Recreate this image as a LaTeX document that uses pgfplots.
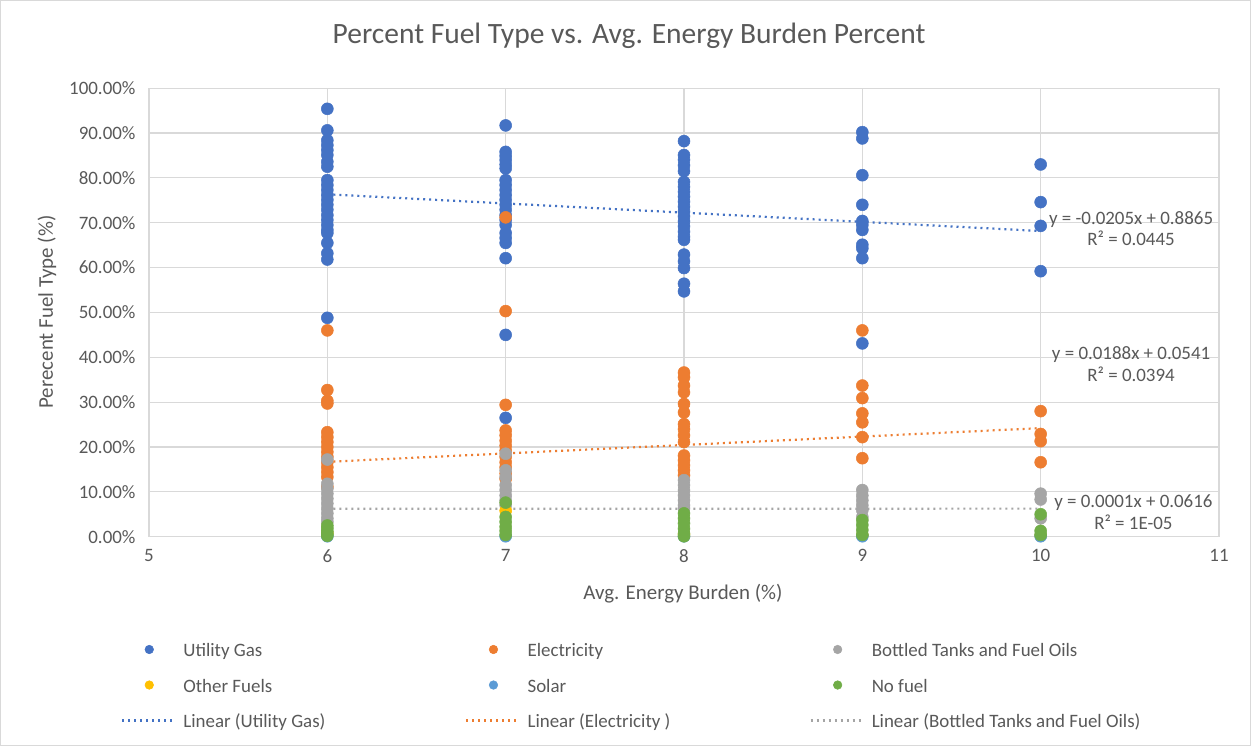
\documentclass[border=0pt]{standalone}
\usepackage{pgfplots}
\pgfplotsset{compat=1.18}
\usepackage{fontspec}
\setmainfont{Carlito}
\definecolor{cGas}{HTML}{4472C4}
\definecolor{cEl}{HTML}{ED7D31}
\definecolor{cBot}{HTML}{A5A5A5}
\definecolor{cOth}{HTML}{FFC000}
\definecolor{cSol}{HTML}{5B9BD5}
\definecolor{cNo}{HTML}{70AD47}
\definecolor{gridc}{HTML}{D9D9D9}
\definecolor{labc}{HTML}{595959}
\pgfplotsset{
  mk/.style={only marks, mark=*, mark size=6bp, mark options={solid, fill=#1, draw=#1, line width=0.5bp}, color=#1,
    legend image code/.code={\draw[##1, mark size=4.3bp] plot coordinates {(27bp,0bp)};}},
  tr/.style={no marks, color=#1, line width=2.2bp, dash pattern=on 2bp off 4bp,
    legend image code/.code={\draw[##1] (0bp,0bp) -- (50bp,0bp);}},
}
\newcommand{\lt}[1]{\makebox[282bp][l]{\strut #1}}
\newcommand{\ls}[1]{\strut #1}
\begin{document}
\begin{tikzpicture}
\path[use as bounding box] (0bp,0bp) rectangle (1251bp,746bp);
\fill[white] (0bp,0bp) rectangle (1251bp,746bp);
\draw[gridc, line width=1bp] (0.5bp,0.5bp) rectangle (1250.5bp,745.5bp);
\begin{axis}[
  at={(149bp,209.3bp)}, anchor=south west,
  scale only axis, width=1070bp, height=448.5bp,
  xmin=5, xmax=11, ymin=0, ymax=100,
  xtick={5,6,...,11}, ytick={0,10,...,100},
  grid=major, major grid style={draw=gridc, line width=1.2bp},
  axis line style={draw=gridc, line width=1.2bp},
  major tick length=0pt,
  /pgf/number format/assume math mode=true,
  tick label style={font=\fontsize{19}{23}\selectfont, text=labc},
  yticklabel={\pgfmathprintnumber[fixed,fixed zerofill,precision=2]{\tick}\%},
  xticklabel style={yshift=-9bp},
  yticklabel style={xshift=-10bp},
  xlabel={Avg. Energy Burden (\%)},
  ylabel={Perecent Fuel Type (\%)},
  label style={font=\fontsize{21}{25}\selectfont, text=labc},
  xlabel style={at={(axis description cs:0.499,-0.127)}, anchor=center},
  ylabel style={at={(axis description cs:-0.0953,0.501)}, anchor=center},
  title={Percent Fuel Type vs. Avg. Energy Burden Percent},
  title style={at={(axis description cs:0.4486,1.103)}, anchor=center, font=\fontsize{29.6}{34}\selectfont, text=labc},
  legend columns=3,
  legend cell align=left,
  legend style={at={(axis description cs:-0.0262,-0.2315)}, anchor=north west, draw=none, fill=none,
    inner sep=0bp, row sep=18bp, column sep=0bp,
    font=\fontsize{19}{23}\selectfont, text=labc, nodes={inner sep=0bp},
    /tikz/every odd column/.append style={column sep=10bp}},
]
\addplot[mk=cGas] coordinates {
(6,95.4) (6,90.6) (6,88.4) (6,87.3) (6,86.2) (6,85.1) (6,83.6) (6,82.5) (6,79.5) (6,78.4) (6,77.3) (6,76.2) (6,75.1) (6,74.0) (6,72.9) (6,71.7) (6,70.6) (6,69.5) (6,68.4) (6,67.7) (6,65.5) (6,63.2) (6,61.8) (6,48.8)
(7,91.7) (7,85.8) (7,84.9) (7,84.0) (7,83.0) (7,82.1) (7,79.5) (7,78.4) (7,77.3) (7,76.2) (7,75.1) (7,74.0) (7,72.9) (7,71.7) (7,70.6) (7,69.5) (7,67.7) (7,66.6) (7,65.5) (7,62.1) (7,45.0) (7,26.5)
(8,88.2) (8,85.1) (8,84.0) (8,82.8) (8,81.5) (8,79.1) (8,78.0) (8,76.9) (8,75.8) (8,74.7) (8,73.6) (8,72.5) (8,71.4) (8,70.3) (8,69.2) (8,68.0) (8,66.9) (8,66.2) (8,62.9) (8,61.4) (8,59.9) (8,56.4) (8,54.7)
(9,90.2) (9,88.8) (9,80.6) (9,74.0) (9,70.4) (9,69.5) (9,68.4) (9,65.1) (9,64.3) (9,62.1) (9,43.1)
(10,83.0) (10,74.6) (10,69.3) (10,59.2)
};
\addlegendentry{\lt{Utility Gas}}
\addplot[mk=cEl] coordinates {
(6,46.0) (6,32.7) (6,30.3) (6,29.7) (6,23.3) (6,22.2) (6,21.1) (6,20.0) (6,18.9) (6,17.8) (6,16.6) (6,15.5) (6,14.4) (6,13.3) (6,11.1)
(7,71.2) (7,50.3) (7,29.4) (7,23.7) (7,22.6) (7,21.4) (7,20.3) (7,19.2) (7,17.8) (7,16.6) (7,15.5) (7,14.1) (7,12.9)
(8,36.6) (8,35.5) (8,33.7) (8,32.2) (8,29.6) (8,27.7) (8,25.1) (8,24.0) (8,22.6) (8,21.1) (8,18.1) (8,17.0) (8,15.9) (8,14.8) (8,13.7)
(9,46.0) (9,33.7) (9,30.9) (9,27.5) (9,25.5) (9,22.2) (9,17.5)
(10,28.0) (10,22.9) (10,21.3) (10,16.6)
};
\addlegendentry{\lt{Electricity}}
\addplot[mk=cBot] coordinates {
(6,17.2) (6,11.8) (6,10.7) (6,9.6) (6,8.5) (6,7.4) (6,6.3) (6,5.2) (6,4.1) (6,3.3)
(7,18.5) (7,14.8) (7,13.3) (7,11.5) (7,10.4) (7,9.2) (7,8.1) (7,7.0)
(8,12.6) (8,11.5) (8,10.4) (8,9.2) (8,8.1) (8,7.0) (8,6.3)
(9,10.4) (9,9.2) (9,8.1) (9,7.0) (9,5.9) (9,4.4)
(10,9.6) (10,8.3) (10,4.1)
};
\addlegendentry{\ls{Bottled Tanks and Fuel Oils}}
\addplot[mk=cOth] coordinates {(7,5.8) (6,0.8) (8,0.5) (9,0.3) (10,0.2)};
\addlegendentry{\lt{Other Fuels}}
\addplot[mk=cSol] coordinates {(6,0.1) (7,0.1) (8,0.1) (9,0.1) (10,0.1)};
\addlegendentry{\lt{Solar}}
\addplot[mk=cNo] coordinates {
(6,2.5) (6,1.9) (6,1.2) (6,0.6) (6,0.2)
(7,7.6) (7,4.4) (7,3.3) (7,2.2) (7,1.3) (7,0.4)
(8,5.2) (8,4.1) (8,3.0) (8,1.8) (8,0.7) (8,0.1)
(9,3.7) (9,2.6) (9,1.5) (9,0.4)
(10,5.0) (10,1.3) (10,0.4)
};
\addlegendentry{\ls{No fuel}}
\addplot[tr=cGas] coordinates {(6,76.35) (10,68.15)};
\addlegendentry{\lt{Linear (Utility Gas)}}
\addplot[tr=cEl] coordinates {(6,16.69) (10,24.21)};
\addlegendentry{\lt{Linear (Electricity )}}
\addplot[tr=cBot] coordinates {(6,6.22) (10,6.26)};
\addlegendentry{\ls{Linear (Bottled Tanks and Fuel Oils)}}
\node[align=center, font=\fontsize{19}{22}\selectfont, text=labc] at (axis cs:10.507,68.7) {y = -0.0205x + 0.8865\\R² = 0.0445};
\node[align=center, font=\fontsize{19}{22}\selectfont, text=labc] at (axis cs:10.507,38.4) {y = 0.0188x + 0.0541\\R² = 0.0394};
\node[align=center, font=\fontsize{19}{22}\selectfont, text=labc] at (axis cs:10.52,5.5) {y = 0.0001x + 0.0616\\R² = 1E-05};
\end{axis}
\end{tikzpicture}
\end{document}
